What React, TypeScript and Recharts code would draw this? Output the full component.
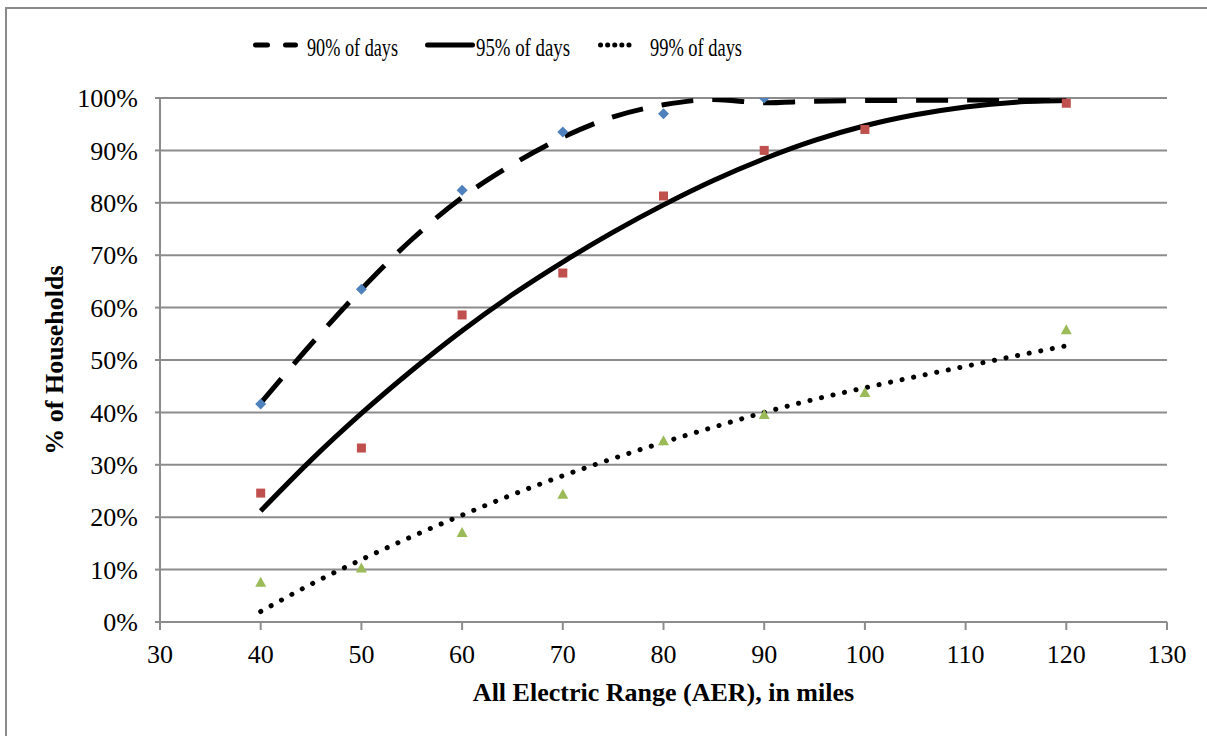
import {
  ComposedChart,
  Scatter,
  Line,
  XAxis,
  YAxis,
  CartesianGrid,
} from "recharts";

// observed points (x = AER in miles, y = share of households)
const pts90 = [
  { x: 40, y: 0.416 },
  { x: 50, y: 0.635 },
  { x: 60, y: 0.824 },
  { x: 70, y: 0.935 },
  { x: 80, y: 0.97 },
  { x: 90, y: 1.0 },
];
const pts95 = [
  { x: 40, y: 0.246 },
  { x: 50, y: 0.332 },
  { x: 60, y: 0.586 },
  { x: 70, y: 0.666 },
  { x: 80, y: 0.813 },
  { x: 90, y: 0.9 },
  { x: 100, y: 0.94 },
  { x: 120, y: 0.99 },
];
const pts99 = [
  { x: 40, y: 0.075 },
  { x: 50, y: 0.102 },
  { x: 60, y: 0.17 },
  { x: 70, y: 0.243 },
  { x: 80, y: 0.345 },
  { x: 90, y: 0.395 },
  { x: 100, y: 0.437 },
  { x: 120, y: 0.557 },
];

// trend lines
const trend90 = [
  { x: 40, y: 0.418 },
  { x: 45, y: 0.53 },
  { x: 50, y: 0.635 },
  { x: 55, y: 0.73 },
  { x: 60, y: 0.81 },
  { x: 65, y: 0.873 },
  { x: 70, y: 0.925 },
  { x: 75, y: 0.964 },
  { x: 80, y: 0.987 },
  { x: 85, y: 0.997 },
  { x: 90, y: 0.991 },
  { x: 95, y: 0.994 },
  { x: 100, y: 0.995 },
  { x: 110, y: 0.996 },
  { x: 120, y: 0.997 },
];
const trend95 = [
  { x: 40, y: 0.212 },
  { x: 45, y: 0.309 },
  { x: 50, y: 0.398 },
  { x: 55, y: 0.48 },
  { x: 60, y: 0.556 },
  { x: 65, y: 0.625 },
  { x: 70, y: 0.687 },
  { x: 75, y: 0.744 },
  { x: 80, y: 0.796 },
  { x: 85, y: 0.843 },
  { x: 90, y: 0.884 },
  { x: 95, y: 0.919 },
  { x: 100, y: 0.947 },
  { x: 105, y: 0.968 },
  { x: 110, y: 0.983 },
  { x: 115, y: 0.992 },
  { x: 120, y: 0.995 },
];
const trend99 = [
  { x: 40, y: 0.02 },
  { x: 45, y: 0.072 },
  { x: 50, y: 0.119 },
  { x: 55, y: 0.163 },
  { x: 60, y: 0.204 },
  { x: 65, y: 0.243 },
  { x: 70, y: 0.279 },
  { x: 75, y: 0.312 },
  { x: 80, y: 0.343 },
  { x: 85, y: 0.372 },
  { x: 90, y: 0.4 },
  { x: 95, y: 0.425 },
  { x: 100, y: 0.447 },
  { x: 105, y: 0.468 },
  { x: 110, y: 0.488 },
  { x: 115, y: 0.508 },
  { x: 120, y: 0.527 },
];

const xTicks = [30, 40, 50, 60, 70, 80, 90, 100, 110, 120, 130];
const yTicks = [0, 0.1, 0.2, 0.3, 0.4, 0.5, 0.6, 0.7, 0.8, 0.9, 1.0];

const legendItems = [
  { name: "90% of days", dash: "12 18", x: 253, w: 45, textX: 307, textW: 91 },
  { name: "95% of days", dash: undefined, x: 425, w: 50, textX: 476, textW: 94 },
  { name: "99% of days", dash: "0.1 7", x: 598, w: 40, textX: 650, textW: 92 },
];

const FONT = "'Liberation Serif', 'Times New Roman', serif";
const GRID = "#8c8c8c";

const Diamond = (p: any) => (
  <path
    d={`M${p.cx},${p.cy - 5.5} L${p.cx + 5.5},${p.cy} L${p.cx},${p.cy + 5.5} L${p.cx - 5.5},${p.cy} Z`}
    fill="#4F81BD"
  />
);
const Square = (p: any) => (
  <rect x={p.cx - 4.5} y={p.cy - 4.5} width={9} height={9} fill="#C0504D" />
);
const Triangle = (p: any) => (
  <path
    d={`M${p.cx},${p.cy - 6} L${p.cx + 5.5},${p.cy + 4} L${p.cx - 5.5},${p.cy + 4} Z`}
    fill="#9BBB59"
  />
);

export default function App() {
  return (
    <div
      style={{
        position: "absolute",
        left: 0,
        top: 0,
        width: 1207,
        height: 736,
        background: "#fff",
        fontFamily: FONT,
        overflow: "hidden",
      }}
    >
      <div
        style={{
          position: "absolute",
          left: 5,
          top: 7,
          width: 1220,
          height: 760,
          border: "2px solid #8a8a8a",
        }}
      />
      <ComposedChart
        width={1207}
        height={736}
        margin={{ top: 98, right: 40, bottom: 44, left: 40 }}
        style={{ position: "absolute", left: 0, top: 0 }}
      >
        <CartesianGrid vertical={false} stroke={GRID} strokeWidth={2} />
        <XAxis
          type="number"
          dataKey="x"
          domain={[30, 130]}
          ticks={xTicks}
          height={70}
          stroke={GRID}
          axisLine={{ stroke: GRID, strokeWidth: 2 }}
          tickLine={{ stroke: GRID, strokeWidth: 2 }}
          tickSize={8}
          tickMargin={15}
          tick={{ fill: "#000", fontSize: 26, fontFamily: FONT }}
          allowDataOverflow
          label={{
            content: ({ viewBox }: any) => (
              <text
                x={viewBox.x + viewBox.width / 2}
                y={viewBox.y + 79}
                textAnchor="middle"
                fontSize={26}
                fontWeight="bold"
                fontFamily={FONT}
                fill="#000"
              >
                All Electric Range (AER), in miles
              </text>
            ),
          }}
        />
        <YAxis
          type="number"
          dataKey="y"
          domain={[0, 1]}
          ticks={yTicks}
          width={120}
          axisLine={{ stroke: GRID, strokeWidth: 2 }}
          tickLine={{ stroke: GRID, strokeWidth: 2 }}
          tickSize={5}
          tickMargin={17}
          tick={{ fill: "#000", fontSize: 26, fontFamily: FONT }}
          tickFormatter={(v: number) => `${Math.round(v * 100)}%`}
          allowDataOverflow
          label={{
            content: ({ viewBox }: any) => {
              const cx = 63;
              const cy = viewBox.y + viewBox.height / 2;
              return (
                <text
                  x={cx}
                  y={cy}
                  transform={`rotate(-90, ${cx}, ${cy})`}
                  textAnchor="middle"
                  fontSize={26}
                  fontWeight="bold"
                  fontFamily={FONT}
                  fill="#000"
                >
                  % of Households
                </text>
              );
            },
          }}
        />
        <Scatter data={pts90} dataKey="y" shape={Diamond} isAnimationActive={false} />
        <Scatter data={pts95} dataKey="y" shape={Square} isAnimationActive={false} />
        <Scatter data={pts99} dataKey="y" shape={Triangle} isAnimationActive={false} />
        <Line
          data={trend90}
          dataKey="y"
          type="monotone"
          stroke="#000"
          strokeWidth={5}
          strokeDasharray="32 19"
          dot={false}
          activeDot={false}
          isAnimationActive={false}
        />
        <Line
          data={trend95}
          dataKey="y"
          type="monotone"
          stroke="#000"
          strokeWidth={5}
          dot={false}
          activeDot={false}
          isAnimationActive={false}
        />
        <Line
          data={trend99}
          dataKey="y"
          type="monotone"
          stroke="#000"
          strokeWidth={5}
          strokeLinecap="round"
          strokeDasharray="0.1 11.7"
          dot={false}
          activeDot={false}
          isAnimationActive={false}
        />
      </ComposedChart>
      <svg
        width={1207}
        height={80}
        style={{ position: "absolute", left: 0, top: 0 }}
      >
        {legendItems.map((it) => (
          <g key={it.name}>
            <line
              x1={it.x + 2.5}
              x2={it.x + it.w - 2.5}
              y1={45}
              y2={45}
              stroke="#000"
              strokeWidth={5}
              strokeLinecap="round"
              strokeDasharray={it.dash}
            />
            <text
              x={it.textX}
              y={56}
              fontSize={26}
              fontFamily={FONT}
              textLength={it.textW}
              lengthAdjust="spacingAndGlyphs"
              fill="#000"
            >
              {it.name}
            </text>
          </g>
        ))}
      </svg>
    </div>
  );
}
